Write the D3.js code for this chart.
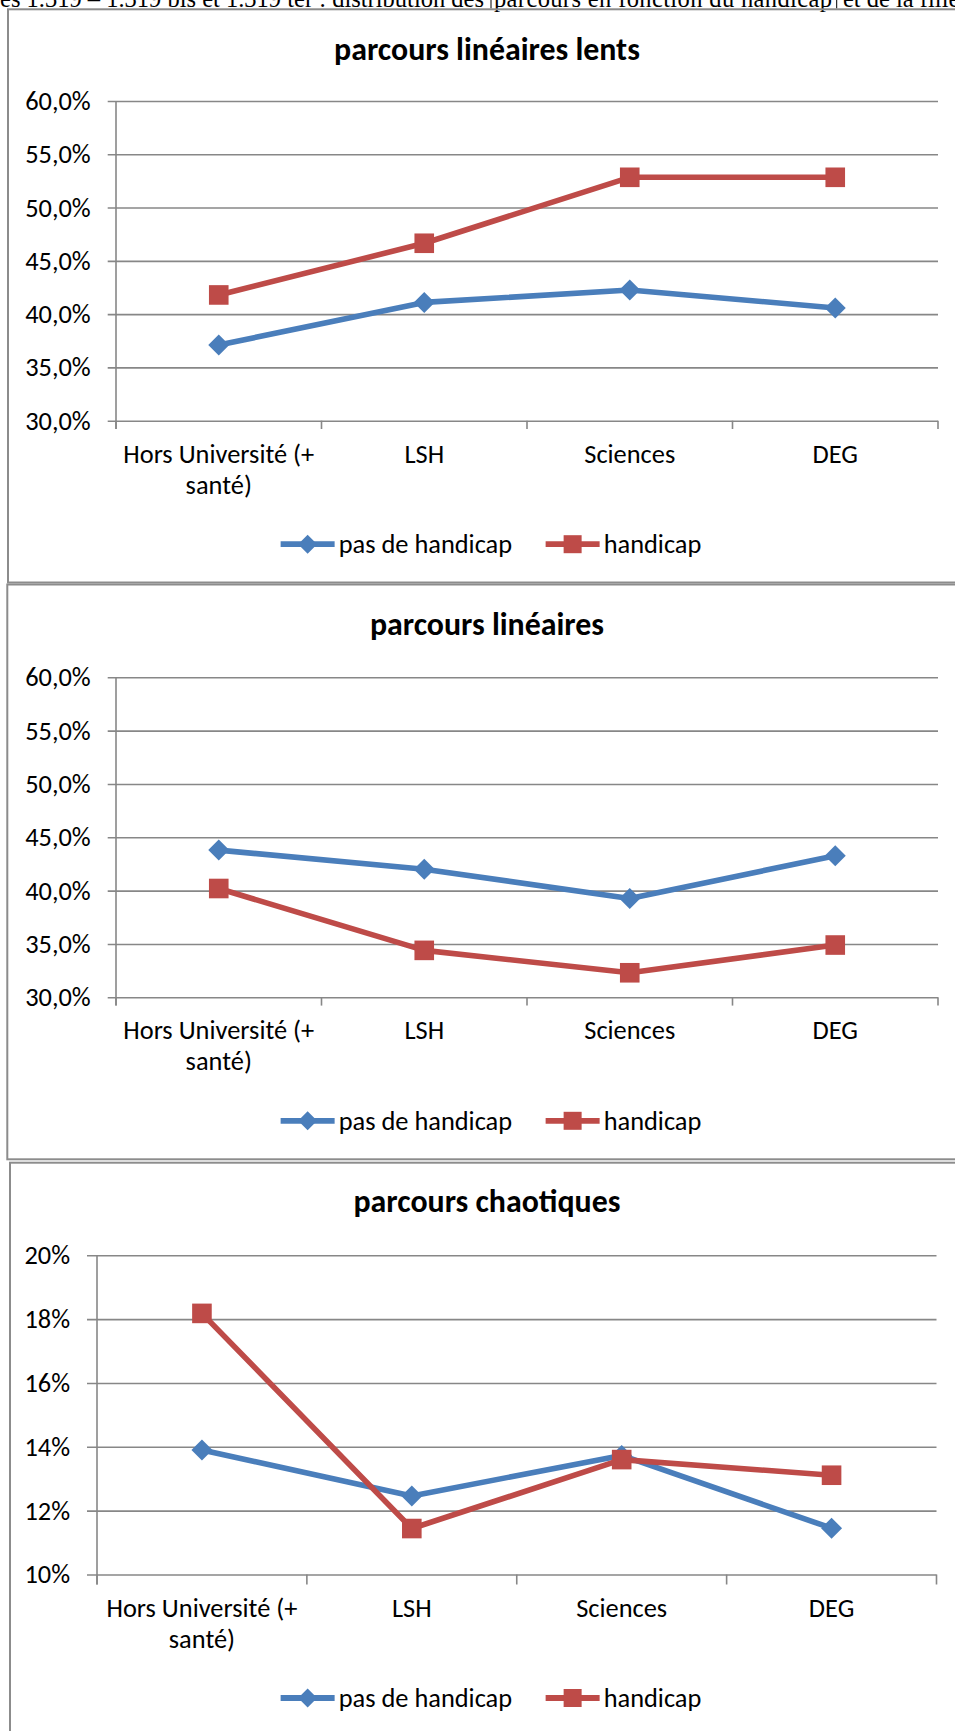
<!DOCTYPE html>
<html><head><meta charset="utf-8">
<script src="https://cdn.jsdelivr.net/npm/d3@7"></script>
<style>html,body{margin:0;padding:0;background:#fff;overflow:hidden}</style>
</head><body>
<svg id="c" width="955" height="1731"></svg>
<script>
// ---------- data ----------
const categories = ["Hors Université (+ santé)", "LSH", "Sciences", "DEG"];
const seriesNames = ["pas de handicap", "handicap"];
const titles = ["parcours linéaires lents", "parcours linéaires", "parcours chaotiques"];

const lentsPas = [0.371, 0.411, 0.4227, 0.4058];
const lentsHandicap = [0.418, 0.4665, 0.5284, 0.5284];

const lineairesPas = [0.438, 0.420, 0.3927, 0.4327];
const lineairesHandicap = [0.402, 0.344, 0.323, 0.349];

const chaotiquesPas = [0.139, 0.1246, 0.1373, 0.1145];
const chaotiquesHandicap = [0.1818, 0.1144, 0.1360, 0.1311];

const ticksLineaires = [0.30, 0.35, 0.40, 0.45, 0.50, 0.55, 0.60];
const ticksChaotiques = [0.10, 0.12, 0.14, 0.16, 0.18, 0.20];

const headerPieces = ["es 1.319 – 1.319 bis et 1.319 ter : distribution des", "parcours en fonction du handicap", "et de la filière"];

// ---------- setup ----------
const svg = d3.select("#c");
svg.append("rect").attr("width", 955).attr("height", 1731).attr("fill", "#fff");
const fr = d3.formatLocale({decimal: ",", thousands: "\u00a0", grouping: [3], currency: ["", "\u00a0€"], percent: "%"});
const FONT = "Carlito, Lato, 'Open Sans', sans-serif";
const BLUE = "#4a7ebb", RED = "#be4b48", GRID = "#878787", BORDER = "#8c8c8c";

function measure(text, weight, size, family) {
  const t = svg.append("text").attr("font-family", family).attr("font-weight", weight)
    .attr("font-size", size).text(text);
  const w = t.node().getComputedTextLength();
  t.remove();
  return w;
}
const labelSize = 100 * 173.6 / measure("pas de handicap", 400, 100, FONT);
const titleSize = 100 * 306 / measure("parcours linéaires lents", 700, 100, FONT);

// ---------- header (document text above the charts) ----------
const SERIF = "'Liberation Serif', 'Times New Roman', serif";
const headerX = [0, 494, 843];
const headerW = [484, 338, null];
headerPieces.forEach((p, i) => {
  const t = svg.append("text").attr("x", headerX[i]).attr("y", 6.7)
    .attr("font-family", SERIF).attr("font-size", 24.5).attr("fill", "#000").text(p);
  if (headerW[i]) t.attr("textLength", headerW[i]).attr("lengthAdjust", "spacing");
});
[491, 836.7].forEach(x => svg.append("line").attr("x1", x).attr("x2", x).attr("y1", 0).attr("y2", 8.5)
  .attr("stroke", "#000").attr("stroke-width", 1));

// ---------- charts ----------
const charts = [
  {title: titles[0], pas: lentsPas, hand: lentsHandicap, ticks: ticksLineaires, fmt: ".1%",
   panel: {x: 8, y: 9.3, b: 582.5}, plot: {l: 116, r: 938, t: 101, b: 420.7}, tickLen: 8.3, labelGap: 25.3, titleY: 60},
  {title: titles[1], pas: lineairesPas, hand: lineairesHandicap, ticks: ticksLineaires, fmt: ".1%",
   panel: {x: 7.3, y: 584.5, b: 1159.3}, plot: {l: 116, r: 938, t: 677.3, b: 997.3}, tickLen: 8.3, labelGap: 25.3, titleY: 635},
  {title: titles[2], pas: chaotiquesPas, hand: chaotiquesHandicap, ticks: ticksChaotiques, fmt: ".0%",
   panel: {x: 10, y: 1162.7, b: 1800}, plot: {l: 97, r: 936.5, t: 1255.3, b: 1574.5}, tickLen: 10, labelGap: 27, titleY: 1212}
];

function wrap(textSel, maxW) {
  textSel.each(function() {
    const text = d3.select(this);
    const words = text.text().split(/\s+/);
    text.text(null);
    let lines = [], cur = [];
    words.forEach(w => {
      const test = cur.concat([w]).join(" ");
      if (cur.length && measure(test, 400, labelSize, FONT) > maxW) { lines.push(cur.join(" ")); cur = [w]; }
      else cur.push(w);
    });
    lines.push(cur.join(" "));
    lines.forEach((l, i) => text.append("tspan").attr("x", 0).attr("dy", i === 0 ? 0 : 31).text(l));
  });
}

const diamond = s => `M0,${-s}L${s},0L0,${s}L${-s},0Z`;

charts.forEach(c => {
  const g = svg.append("g");
  // panel border
  g.append("rect").attr("x", c.panel.x).attr("y", c.panel.y)
    .attr("width", 1100).attr("height", c.panel.b - c.panel.y)
    .attr("fill", "none").attr("stroke", BORDER).attr("stroke-width", 2);

  // title
  g.append("text").attr("x", 487).attr("y", c.titleY).attr("text-anchor", "middle")
    .attr("font-family", FONT).attr("font-weight", 700).attr("font-size", titleSize)
    .attr("fill", "#000").text(c.title);

  const x = d3.scaleBand().domain(categories).range([c.plot.l, c.plot.r]).padding(0);
  const y = d3.scaleLinear().domain(d3.extent(c.ticks)).range([c.plot.b, c.plot.t]);
  const width = c.plot.r - c.plot.l;

  // y axis with gridlines
  const yAxis = d3.axisLeft(y).tickValues(c.ticks).tickFormat(fr.format(c.fmt))
    .tickSizeInner(width + c.tickLen).tickSizeOuter(0).tickPadding(c.labelGap - c.tickLen);
  const ya = g.append("g").attr("transform", `translate(${c.plot.r},0)`).call(yAxis);
  ya.select(".domain").remove();
  ya.selectAll(".tick line").attr("stroke", GRID).attr("stroke-width", 1.6);
  ya.selectAll(".tick text").attr("font-family", FONT).attr("font-size", labelSize).attr("fill", "#000");

  // y axis vertical line
  g.append("line").attr("x1", c.plot.l).attr("x2", c.plot.l).attr("y1", c.plot.t).attr("y2", c.plot.b + c.tickLen)
    .attr("stroke", GRID).attr("stroke-width", 1.6);

  // x boundary ticks
  const bounds = categories.map(d => x(d)).concat([x.range()[1]]);
  g.selectAll(".xb").data(bounds).join("line")
    .attr("x1", d => d).attr("x2", d => d).attr("y1", c.plot.b).attr("y2", c.plot.b + c.tickLen)
    .attr("stroke", GRID).attr("stroke-width", 1.6);

  // x labels
  const xAxis = d3.axisBottom(x).tickSize(0).tickPadding(0);
  const xa = g.append("g").attr("transform", `translate(0,${c.plot.b})`).call(xAxis);
  xa.select(".domain").remove();
  xa.selectAll(".tick text").attr("font-family", FONT).attr("font-size", labelSize).attr("fill", "#000")
    .attr("y", 42).attr("dy", null).call(wrap, x.bandwidth() - 6);

  // series
  const series = [{name: seriesNames[0], vals: c.pas, color: BLUE, marker: "diamond"},
                  {name: seriesNames[1], vals: c.hand, color: RED, marker: "square"}];
  const line = d3.line().x((d, i) => x(categories[i]) + x.bandwidth() / 2).y(d => y(d));
  series.forEach(s => {
    g.append("path").datum(s.vals).attr("d", line).attr("fill", "none")
      .attr("stroke", s.color).attr("stroke-width", 5.6).attr("stroke-linejoin", "round");
    const pts = g.selectAll(null).data(s.vals).join("g")
      .attr("transform", (d, i) => `translate(${x(categories[i]) + x.bandwidth() / 2},${y(d)})`);
    if (s.marker === "diamond") pts.append("path").attr("d", diamond(10.5)).attr("fill", s.color);
    else pts.append("rect").attr("x", -9.8).attr("y", -9.8).attr("width", 19.6).attr("height", 19.6).attr("fill", s.color);
  });

  // legend
  const ly = c.plot.b + 123.5;
  const lineW = 54, gapT = 4, gapItems = 33.5;
  const tw = series.map(s => measure(s.name, 400, labelSize, FONT));
  const total = d3.sum(tw) + series.length * (lineW + gapT) + gapItems * (series.length - 1);
  let lx = 491 - total / 2;
  series.forEach((s, i) => {
    const lg = g.append("g").attr("transform", `translate(${lx},${ly})`);
    lg.append("line").attr("x1", 0).attr("x2", lineW).attr("y1", 0).attr("y2", 0)
      .attr("stroke", s.color).attr("stroke-width", 5.8);
    if (s.marker === "diamond") lg.append("path").attr("transform", `translate(${lineW / 2},0)`).attr("d", diamond(9.5)).attr("fill", s.color);
    else lg.append("rect").attr("x", lineW / 2 - 9).attr("y", -9).attr("width", 18).attr("height", 18).attr("fill", s.color);
    lg.append("text").attr("x", lineW + gapT).attr("y", 0).attr("dy", "0.35em")
      .attr("font-family", FONT).attr("font-size", labelSize).attr("fill", "#000").text(s.name);
    lx += lineW + gapT + tw[i] + gapItems;
  });
});
</script>
</body></html>
